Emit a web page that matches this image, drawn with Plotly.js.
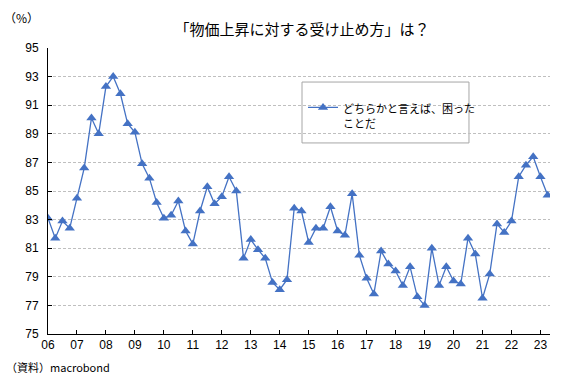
<!DOCTYPE html>
<html>
<head>
<meta charset="utf-8">
<script src="https://cdn.plot.ly/plotly-3.0.1.min.js"></script>
<style>
html, body { margin: 0; padding: 0; background: #fff; }
#chart { width: 572px; height: 392px; }
</style>
</head>
<body>
<div id="chart"></div>
<script>
// Quarterly survey results, 2006 Q1 - 2023 Q2 (%)
var startYear = 2006;
var values = [
  83.1, 81.7, 82.9, 82.4,   // 2006
  84.5, 86.6, 90.1, 89.0,   // 2007
  92.3, 93.0, 91.8, 89.7,   // 2008
  89.1, 86.9, 85.9, 84.2,   // 2009
  83.1, 83.3, 84.3, 82.2,   // 2010
  81.3, 83.6, 85.3, 84.1,   // 2011
  84.6, 86.0, 85.0, 80.3,   // 2012
  81.6, 80.9, 80.3, 78.6,   // 2013
  78.1, 78.8, 83.8, 83.6,   // 2014
  81.4, 82.4, 82.4, 83.9,   // 2015
  82.2, 81.9, 84.8, 80.5,   // 2016
  78.9, 77.8, 80.8, 79.9,   // 2017
  79.4, 78.4, 79.7, 77.6,   // 2018
  77.0, 81.0, 78.4, 79.7,   // 2019
  78.7, 78.5, 81.7, 80.6,   // 2020
  77.5, 79.2, 82.7, 82.1,   // 2021
  82.9, 86.0, 86.8, 87.4,   // 2022
  86.0, 84.7                // 2023
];
var tickYears = [2006,2007,2008,2009,2010,2011,2012,2013,2014,2015,2016,2017,2018,2019,2020,2021,2022,2023];
var tickLabels = ["06","07","08","09","10","11","12","13","14","15","16","17","18","19","20","21","22","23"];
// series name, shown over two lines as in the reference legend
var seriesNameLine1 = "どちらかと言えば、困った";
var seriesNameLine2 = "ことだ";
var titleText = "「物価上昇に対する受け止め方」は？";
var unitText = "（%）";
var sourceText = "（資料）macrobond";

// quarter positions on a decimal-year axis
var quarters = values.map(function (v, i) { return startYear + i / 4; });

var jp = "'Noto Sans CJK JP', sans-serif";
var num = "'Liberation Sans Narrow', 'Liberation Sans', Arial, sans-serif";

var trace = {
  x: quarters,
  y: values,
  type: "scatter",
  mode: "lines+markers",
  name: seriesNameLine1,
  line: { color: "#4472C4", width: 1.3 },
  marker: { symbol: "triangle-up", size: 9, color: "#4472C4" }
};

var layout = {
  width: 572,
  height: 392,
  margin: { l: 48, r: 22, t: 48, b: 58 },
  paper_bgcolor: "#ffffff",
  plot_bgcolor: "#ffffff",
  showlegend: true,
  title: {
    text: titleText,
    font: { family: jp, size: 15, color: "#000" },
    xref: "paper", x: 0.506, xanchor: "center",
    yref: "container", y: 0.923, yanchor: "middle"
  },
  xaxis: {
    range: [2006, 2023.33],
    tickvals: tickYears,
    ticktext: tickLabels,
    showgrid: false,
    zeroline: false,
    showline: true,
    linecolor: "#000",
    linewidth: 1,
    ticks: "inside",
    ticklen: 4,
    tickcolor: "#000",
    tickfont: { family: num, size: 12, color: "#000" }
  },
  yaxis: {
    range: [75, 95],
    tick0: 75,
    dtick: 2,
    showgrid: true,
    gridcolor: "#bfbfbf",
    griddash: "3px,2px",
    gridwidth: 1,
    zeroline: false,
    showline: true,
    linecolor: "#000",
    linewidth: 1,
    ticks: "inside",
    ticklen: 4,
    tickcolor: "#000",
    ticklabelstandoff: 6,
    tickfont: { family: num, size: 12, color: "#000" }
  },
  legend: {
    x: 0.508, xanchor: "left",
    y: 0.84, yanchor: "top",
    bgcolor: "rgba(0,0,0,0)",
    borderwidth: 0,
    valign: "top",
    font: { family: jp, size: 11, color: "#000" }
  },
  shapes: [{
    type: "rect", xref: "paper", yref: "paper",
    x0: 0.506, x1: 0.8386, y0: 0.668, y1: 0.881,
    line: { color: "#a6a6a6", width: 1 },
    fillcolor: "#ffffff",
    layer: "below"
  }],
  annotations: [
    { text: seriesNameLine2, xref: "paper", yref: "paper", x: 0.5837, y: 0.7378,
      xanchor: "left", yanchor: "middle", showarrow: false,
      font: { family: jp, size: 11, color: "#000" } },
    { text: unitText, xref: "paper", yref: "paper", x: -0.052, y: 1.105,
      xanchor: "center", yanchor: "middle", showarrow: false,
      font: { family: jp, size: 12, color: "#000" } },
    { text: sourceText, xref: "paper", yref: "paper", x: -0.0876, y: -0.115,
      xanchor: "left", yanchor: "middle", showarrow: false,
      font: { family: jp, size: 11, color: "#000" } }
  ]
};

Plotly.newPlot("chart", [trace], layout, { displayModeBar: false, staticPlot: true });
</script>
</body>
</html>
